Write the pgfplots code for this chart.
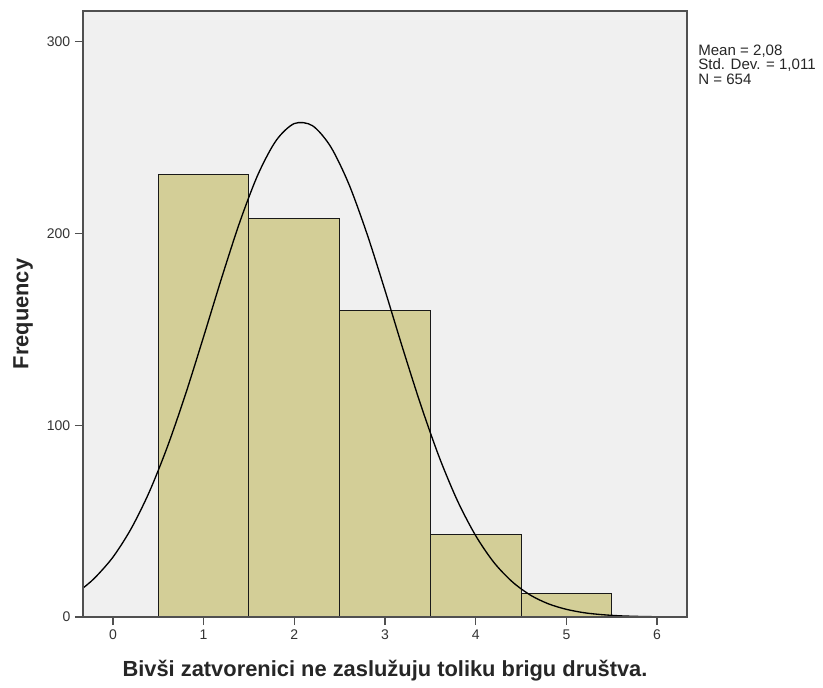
\documentclass[border=0pt]{standalone}
\usepackage{fontspec}
\setmainfont{Liberation Sans}
\usepackage{pgfplots}
\pgfplotsset{compat=1.18}
\definecolor{bgcol}{RGB}{240,240,240}
\definecolor{barcol}{RGB}{211,206,151}
\definecolor{framecol}{RGB}{80,80,80}

\begin{document}
\begin{tikzpicture}
% page frame, 1px = 0.75pt
\path[use as bounding box] (-62.25pt,-52.5pt) rectangle (555pt,462.75pt);
\begin{axis}[
    name=ax,
    at={(0,0)}, anchor=south west,
    width=453pt, height=454.5pt, scale only axis,
    xmin=-0.33, xmax=6.33, ymin=0, ymax=316,
    xtick={0,1,2,3,4,5,6}, ytick={0,100,200,300},
    axis background/.style={fill=bgcol},
    axis line style={framecol, line width=1.5pt},
    axis on top,
    tick align=outside, tick pos=left,
    major tick length=6pt,
    tick style={framecol, line width=1pt},
    ticklabel style={font=\fontsize{10.5}{12}\selectfont, text=black!80},
    /pgf/number format/assume math mode=true,
    xlabel={Bivši zatvorenici ne zaslužuju toliku brigu društva.},
    ylabel={Frequency},
    every axis x label/.style={at={(axis description cs:0.5,-0.0891)}, anchor=center,
        font=\bfseries\fontsize{16.4}{19}\selectfont, text=black!85},
    every axis y label/.style={at={(axis description cs:-0.0993,0.5)}, anchor=center, rotate=90,
        font=\bfseries\fontsize{16.4}{19}\selectfont, text=black!85},
]

% histogram
\addplot[ybar interval, fill=barcol, draw=black!90, line width=0.75pt] coordinates {
    (0.5,231) (1.5,208) (2.5,160) (3.5,43) (4.5,12) (5.5,12)
};

% normal curve
\addplot[smooth, black, line width=1pt] coordinates {
    (-0.33,15.1) (-0.2,20.4) (0,31.2) (0.2,46.0) (0.4,65.1) (0.6,88.7)
    (0.8,116.1) (1.0,146.2) (1.2,177.0) (1.4,206.1) (1.6,230.8) (1.8,248.5)
    (2.0,257.3) (2.2,256.2) (2.4,245.3) (2.6,225.9) (2.8,200.0)
    (3.0,170.3) (3.2,139.4) (3.4,109.8) (3.6,83.1) (3.8,60.5) (4.0,42.4)
    (4.2,28.5) (4.4,18.5) (4.6,11.5) (4.8,6.9) (5.0,4.0) (5.2,2.2)
    (5.4,1.2) (5.6,0.6) (5.8,0.3) (6.0,0.14) (6.2,0.06) (6.33,0.03)
};
\end{axis}
\node[anchor=north west, inner sep=0pt, align=left, text=black!85,
      font=\fontsize{11.3}{10.6}\selectfont]
    at ([xshift=8.25pt, yshift=-25.5pt]ax.north east)
    {Mean = 2,08\\Std. Dev. = 1,011\\N = 654};
\end{tikzpicture}
\end{document}
